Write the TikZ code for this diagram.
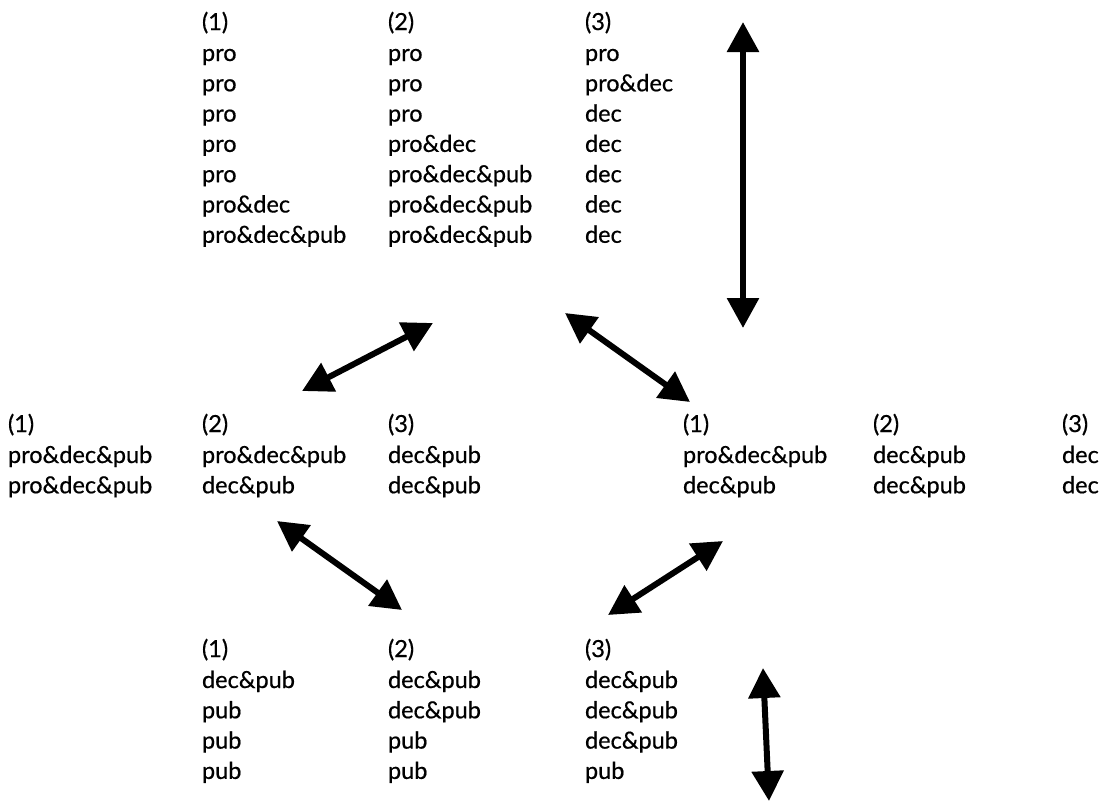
\documentclass[tikz,border=0pt]{standalone}
\usepackage{fontspec}
\setmainfont{Lato}
\newfontfamily\lblfont{Lato}[FakeBold=0.6]
\usetikzlibrary{arrows.meta}
\tikzset{
  lbl/.style={anchor=base west, inner sep=0pt, outer sep=0pt, font=\lblfont\fontsize{23.5}{28}\selectfont},
  dbl/.style={line width=6pt, {Triangle[length=30pt,width=31pt]}-{Triangle[length=30pt,width=31pt]}}
}
\newcommand\colm[4]{%
  \foreach \t [count=\i from 0] in {#4} {
    \node[lbl] (#1-\i) at (#2, {#3 + (\i>0)*31 + max(\i-1,0)*30.3}) {\t};
  }%
}
\begin{document}
\begin{tikzpicture}[x=1pt,y=-1pt]
\useasboundingbox (0,0) rectangle (1108,803);
% top group
\colm{ta}{202}{30}{(1),pro,pro,pro,pro,pro,pro\&dec,pro\&dec\&pub}
\colm{tb}{388}{30}{(2),pro,pro,pro,pro\&dec,pro\&dec\&pub,pro\&dec\&pub,pro\&dec\&pub}
\colm{tc}{585}{30}{(3),pro,pro\&dec,dec,dec,dec,dec,dec}
% middle left group
\colm{la}{8}{432}{(1),pro\&dec\&pub,pro\&dec\&pub}
\colm{lb}{202}{432}{(2),pro\&dec\&pub,dec\&pub}
\colm{lc}{388}{432}{(3),dec\&pub,dec\&pub}
% middle right group
\colm{ra}{683}{432}{(1),pro\&dec\&pub,dec\&pub}
\colm{rb}{873}{432}{(2),dec\&pub,dec\&pub}
\colm{rc}{1062}{432}{(3),dec,dec}
% bottom group
\colm{ba}{202}{657}{(1),dec\&pub,pub,pub,pub}
\colm{bb}{388}{657}{(2),dec\&pub,dec\&pub,pub,pub}
\colm{bc}{585}{657}{(3),dec\&pub,dec\&pub,dec\&pub,pub}
% arrow end points
\coordinate (v1a) at (743,22);
\coordinate (v1b) at (743,328);
\coordinate (a2a) at (433,323);
\coordinate (a2b) at (302,391);
\coordinate (a3a) at (565,313);
\coordinate (a3b) at (690,402);
\coordinate (a4a) at (277,521);
\coordinate (a4b) at (402,610);
\coordinate (a5a) at (723,541);
\coordinate (a5b) at (608,615);
\coordinate (v2a) at (763,668);
\coordinate (v2b) at (769,801);
\draw[dbl] (v1a) -- (v1b);
\draw[dbl] (a2a) -- (a2b);
\draw[dbl] (a3a) -- (a3b);
\draw[dbl] (a4a) -- (a4b);
\draw[dbl] (a5a) -- (a5b);
\draw[dbl] (v2a) -- (v2b);
\end{tikzpicture}
\end{document}
